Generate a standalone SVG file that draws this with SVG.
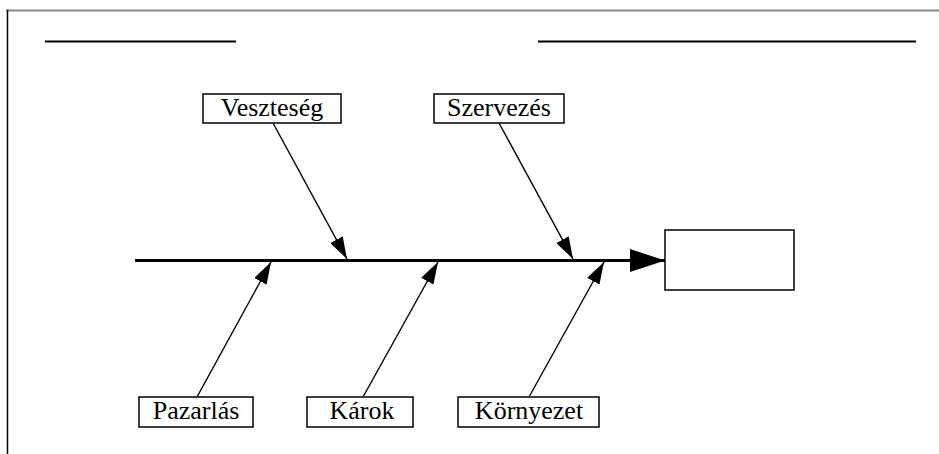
<svg xmlns="http://www.w3.org/2000/svg" width="939" height="454" viewBox="0 0 939 454">
<defs>
<style>
.box{fill:#fff;stroke:#000;stroke-width:1.5}
.lbl{font-family:"Liberation Serif","Times New Roman",serif;font-size:26px;fill:#000;text-anchor:middle}
.br{stroke:#000;stroke-width:1.4;fill:none}
</style>
<marker id="ah" markerUnits="userSpaceOnUse" markerWidth="24" markerHeight="14" refX="22" refY="7" orient="auto">
<path d="M0,0 L22,7 L0,14 Z" fill="#000"/>
</marker>
<marker id="big" markerUnits="userSpaceOnUse" markerWidth="36" markerHeight="24" refX="35" refY="12" orient="auto">
<path d="M0,0.5 L35,12 L0,23.5 Z" fill="#000"/>
</marker>
</defs>
<rect width="939" height="454" fill="#fff"/>
<g id="frame">
<line x1="6" y1="10.5" x2="939" y2="10.5" stroke="#8a8a8a" stroke-width="2"/>
<line x1="7.5" y1="10" x2="7.5" y2="454" stroke="#000" stroke-width="1.5"/>
<line x1="45" y1="41.5" x2="236" y2="41.5" stroke="#000" stroke-width="2.2"/>
<line x1="538" y1="41.5" x2="916" y2="41.5" stroke="#000" stroke-width="2.2"/>
</g>
<g id="connectors">
<line x1="135" y1="260.5" x2="665" y2="260.5" stroke="#000" stroke-width="3" marker-end="url(#big)"/>
<line class="br" x1="273" y1="123" x2="347" y2="259" marker-end="url(#ah)"/>
<line class="br" x1="499" y1="123" x2="573" y2="259" marker-end="url(#ah)"/>
<line class="br" x1="197" y1="397" x2="271" y2="262" marker-end="url(#ah)"/>
<line class="br" x1="363" y1="397" x2="438" y2="262" marker-end="url(#ah)"/>
<line class="br" x1="529" y1="397" x2="604" y2="262" marker-end="url(#ah)"/>
</g>
<g id="effect"><rect class="box" x="665" y="230" width="129" height="60"/></g>
<g id="veszteseg"><rect class="box" x="203" y="94" width="138" height="29"/><text class="lbl" x="272" y="116">Veszteség</text></g>
<g id="szervezes"><rect class="box" x="434" y="94" width="130" height="29"/><text class="lbl" x="499" y="116">Szervezés</text></g>
<g id="pazarlas"><rect class="box" x="139" y="397" width="114" height="30"/><text class="lbl" x="196" y="419">Pazarlás</text></g>
<g id="karok"><rect class="box" x="307" y="397" width="106" height="30"/><text class="lbl" x="362" y="419">Károk</text></g>
<g id="kornyezet"><rect class="box" x="458" y="397" width="141" height="30"/><text class="lbl" x="529" y="419">Környezet</text></g>
</svg>
